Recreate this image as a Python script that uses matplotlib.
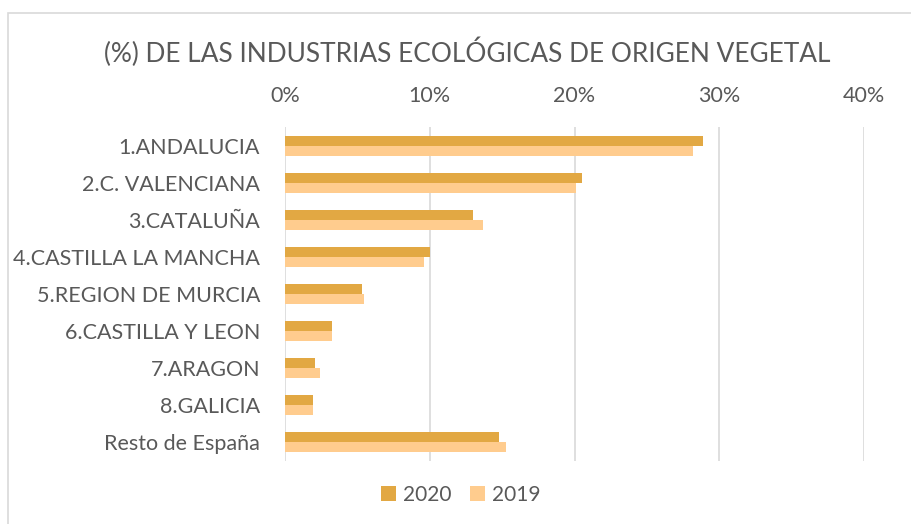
import numpy as np
import matplotlib
matplotlib.use('Agg')
import matplotlib.pyplot as plt
from matplotlib.patches import Rectangle

regions = ['1.ANDALUCIA', '2.C. VALENCIANA', '3.CATALUÑA', '4.CASTILLA LA MANCHA',
           '5.REGION DE MURCIA', '6.CASTILLA Y LEON', '7.ARAGON', '8.GALICIA',
           'Resto de España']
pct_2020 = [28.9, 20.5, 13.0, 10.0, 5.3, 3.25, 2.1, 1.95, 14.8]
pct_2019 = [28.2, 20.1, 13.7, 9.6, 5.45, 3.25, 2.4, 1.95, 15.3]
ticks = [0, 10, 20, 30, 40]

plt.rcParams['font.family'] = ['Lato', 'DejaVu Sans']
gray = '#595959'

fig = plt.figure(figsize=(9.11, 5.24), dpi=100)
# chart frame, like the Excel chart area border
fig.patches.append(Rectangle((8 / 911, -0.01), 1.0, 1 - 13 / 524 + 0.01,
                             transform=fig.transFigure, fill=False,
                             edgecolor='#D9D9D9', linewidth=1.2))

ax = fig.add_axes([285 / 911, 1 - 461 / 524, (864 - 285) / 911, (461 - 127) / 524])

y = np.arange(len(regions))
h = 0.27
ax.barh(y - h / 2, pct_2020, height=h, color='#E2A843', label='2020', zorder=3)
ax.barh(y + h / 2, pct_2019, height=h, color='#FFCC8E', label='2019', zorder=3)

ax.set_xlim(0, 40)
ax.set_ylim(len(regions) - 0.5, -0.5)
ax.set_xticks(ticks)
ax.set_xticklabels([f'{t}%' for t in ticks])
ax.xaxis.tick_top()
ax.set_yticks(y)
ax.set_yticklabels(regions)
ax.tick_params(axis='both', length=0, colors=gray, labelsize=15.5)
ax.tick_params(axis='x', pad=15)
ax.tick_params(axis='y', pad=18)
ax.grid(axis='x', color='#D9D9D9', linewidth=1.2, zorder=0)
for s in ax.spines.values():
    s.set_visible(False)

fig.text(467 / 911, 1 - 52 / 524, '(%) DE LAS INDUSTRIAS ECOLÓGICAS DE ORIGEN VEGETAL',
         ha='center', va='center', fontsize=18.9, color=gray)

fig.legend(loc='center', bbox_to_anchor=(461 / 911, 1 - 495 / 524), ncol=2,
           frameon=False, fontsize=15, labelcolor=gray, handlelength=0.7,
           handleheight=0.7, handletextpad=0.35, columnspacing=0.9)

fig.savefig('out.png', dpi=100)
